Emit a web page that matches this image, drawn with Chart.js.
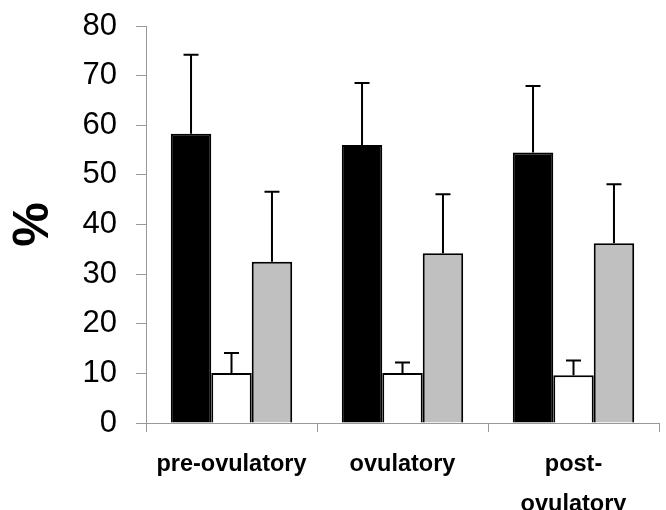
<!DOCTYPE html>
<html><head><meta charset="utf-8">
<script src="https://cdn.jsdelivr.net/npm/chart.js@4/dist/chart.umd.min.js"></script>
<style>html,body{margin:0;padding:0;background:#fff}#wrap{width:666px;height:510px}</style>
</head><body><div id="wrap"><canvas id="c" width="666" height="510"></canvas></div>
<script>
const categories = ['pre-ovulatory', 'ovulatory', ['post-', 'ovulatory']];
const blackValues = [58.3, 56.0, 54.5];
const blackErrTop = [74.2, 68.5, 67.9];
const whiteValues = [10.1, 10.1, 9.6];
const whiteErrTop = [14.1, 12.2, 12.6];
const grayValues = [32.5, 34.2, 36.2];
const grayErrTop = [46.6, 46.1, 48.1];
const yTicks = [0, 10, 20, 30, 40, 50, 60, 70, 80];

const errTops = [blackErrTop, whiteErrTop, grayErrTop];

const errorBars = {
  id: 'errorBars',
  afterDatasetsDraw(chart) {
    const ctx = chart.ctx, y = chart.scales.y;
    ctx.save();
    ctx.strokeStyle = '#000';
    ctx.lineWidth = 2;
    chart.data.datasets.forEach((ds, di) => {
      const meta = chart.getDatasetMeta(di);
      meta.data.forEach((bar, i) => {
        const x = bar.x;
        const yTop = y.getPixelForValue(errTops[di][i]);
        const yBar = y.getPixelForValue(ds.data[i]);
        ctx.beginPath();
        ctx.moveTo(x, yBar);
        ctx.lineTo(x, yTop);
        ctx.moveTo(x - 7.5, yTop);
        ctx.lineTo(x + 7.5, yTop);
        ctx.stroke();
      });
    });
    ctx.restore();
  }
};

new Chart(document.getElementById('c'), {
  type: 'bar',
  data: {
    labels: categories,
    datasets: [
      { label: 'A', data: blackValues, backgroundColor: '#000', borderColor: '#000', borderWidth: 2 },
      { label: 'B', data: whiteValues, backgroundColor: '#fff', borderColor: '#000', borderWidth: 2 },
      { label: 'C', data: grayValues, backgroundColor: '#c0c0c0', borderColor: '#000', borderWidth: 2 }
    ]
  },
  options: {
    responsive: false,
    animation: false,
    datasets: { bar: { categoryPercentage: 0.71, barPercentage: 1.0 } },
    layout: { padding: { top: 26, right: 7, left: 0, bottom: 0 } },
    plugins: { legend: { display: false }, tooltip: { enabled: false } },
    scales: {
      x: {
        grid: { offset: true, drawOnChartArea: false, drawTicks: true, tickLength: 9, color: '#999' },
        border: { color: '#999', width: 1 },
        ticks: { color: '#000', padding: 12, maxRotation: 0, autoSkip: false,
          font: { family: '"Liberation Sans", Arial, sans-serif', size: 23.5, weight: 'bold', lineHeight: 1.72 } },
        afterFit(s) { s.height = 87; s.paddingLeft = 0; s.paddingRight = 0; }
      },
      y: {
        min: 0, max: 80,
        afterBuildTicks(s) { s.ticks = yTicks.map(v => ({ value: v })); },
        grid: { drawOnChartArea: false, drawTicks: true, tickLength: 10, color: '#999' },
        border: { color: '#999', width: 1 },
        ticks: { color: '#000', padding: 19,
          font: { family: '"Liberation Sans", Arial, sans-serif', size: 31 } },
        title: { display: true, text: '%', color: '#000', padding: { top: 4, bottom: 0 },
          font: { family: '"Liberation Sans", Arial, sans-serif', size: 50, weight: 'bold', lineHeight: 1.2 } },
        afterFit(s) { s.width = 146; s.paddingTop = 0; s.paddingBottom = 0; }
      }
    }
  },
  plugins: [errorBars]
});
</script></body></html>
